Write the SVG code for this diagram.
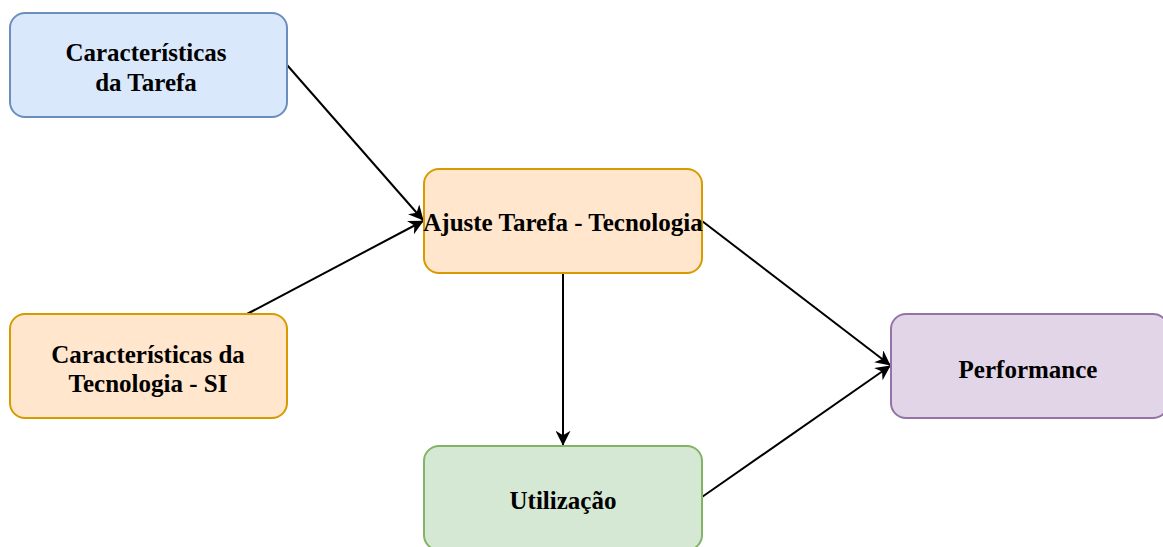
<svg xmlns="http://www.w3.org/2000/svg" width="1163" height="547" viewBox="0 0 1163 547">
  <style>
    .box { stroke-width: 2; }
    .blue { fill: #dae8fc; stroke: #6c8ebf; }
    .orange { fill: #ffe6cc; stroke: #d79b00; }
    .green { fill: #d5e8d4; stroke: #82b366; }
    .purple { fill: #e1d5e7; stroke: #9673a6; }
    .label { font-family: "Liberation Serif", "Times New Roman", serif; font-weight: bold; font-size: 25px; fill: #000; text-anchor: middle; }
    .edge { fill: none; stroke: #000; stroke-width: 2; }
  </style>
  <defs>
    <marker id="arrow" viewBox="0 0 10 10" refX="9.5" refY="5" markerWidth="7.5" markerHeight="7.5" markerUnits="strokeWidth" orient="auto">
      <path d="M0,0 L10,5 L0,10 L3,5 Z" fill="#000"/>
    </marker>
  </defs>

  <g id="connectors">
    <line class="edge" x1="287" y1="65" x2="423" y2="220" marker-end="url(#arrow)"/>
    <line class="edge" x1="247" y1="314" x2="423" y2="221" marker-end="url(#arrow)"/>
    <line class="edge" x1="563" y1="273" x2="563" y2="445" marker-end="url(#arrow)"/>
    <line class="edge" x1="702" y1="221" x2="890" y2="365" marker-end="url(#arrow)"/>
    <line class="edge" x1="702" y1="497" x2="890" y2="366" marker-end="url(#arrow)"/>
  </g>

  <g id="node-tarefa">
    <rect class="box blue" x="10" y="13" width="277" height="104" rx="15" ry="15"/>
    <text class="label" x="146" y="61">Características</text>
    <text class="label" x="146" y="91">da Tarefa</text>
  </g>

  <g id="node-ajuste">
    <rect class="box orange" x="424" y="169" width="278" height="104" rx="15" ry="15"/>
    <text class="label" x="563" y="231">Ajuste Tarefa - Tecnologia</text>
  </g>

  <g id="node-tecnologia">
    <rect class="box orange" x="10" y="314" width="277" height="104" rx="15" ry="15"/>
    <text class="label" x="148" y="363">Características da</text>
    <text class="label" x="148" y="392">Tecnologia - SI</text>
  </g>

  <g id="node-utilizacao">
    <rect class="box green" x="424" y="446" width="278" height="104" rx="15" ry="15"/>
    <text class="label" x="563" y="509">Utilização</text>
  </g>

  <g id="node-performance">
    <rect class="box purple" x="891" y="314" width="277" height="104" rx="15" ry="15"/>
    <text class="label" x="1028" y="378">Performance</text>
  </g>
</svg>
